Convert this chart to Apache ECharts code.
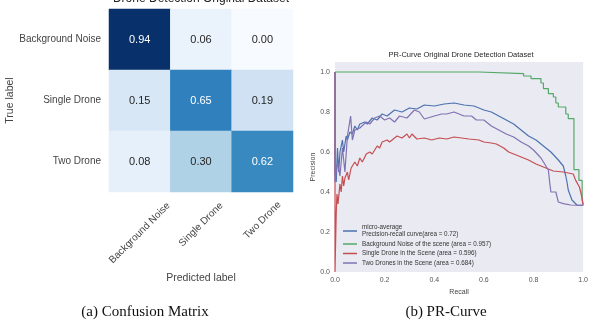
<!DOCTYPE html>
<html>
<head>
<meta charset="utf-8">
<script src="https://cdn.jsdelivr.net/npm/echarts@6/dist/echarts.min.js"></script>
<style>
  html, body { margin: 0; padding: 0; background: #fff; }
  #main { width: 591px; height: 330px; }
</style>
</head>
<body>
<div id="main"></div>
<script>
// confusion matrix
var classes = ['Background Noise', 'Single Drone', 'Two Drone'];
var matrix = [
    [0.94, 0.06, 0.00],
    [0.15, 0.65, 0.19],
    [0.08, 0.30, 0.62]
];

// PR curves, [recall, precision]
var microAvg = [[0,1],[0,0.5],[0.005,0.45],[0.01,0.62],[0.015,0.5],[0.02,0.6],[0.03,0.66],[0.035,0.6],[0.045,0.68],[0.05,0.66],[0.06,0.7],[0.07,0.69],[0.08,0.73],[0.09,0.71],[0.1,0.74],[0.12,0.75],[0.13,0.74],[0.15,0.77],[0.17,0.76],[0.19,0.79],[0.21,0.78],[0.24,0.81],[0.27,0.8],[0.3,0.82],[0.33,0.815],[0.36,0.835],[0.4,0.83],[0.44,0.84],[0.48,0.845],[0.52,0.835],[0.56,0.83],[0.6,0.81],[0.63,0.8],[0.66,0.78],[0.69,0.76],[0.72,0.74],[0.75,0.71],[0.78,0.68],[0.81,0.66],[0.84,0.63],[0.87,0.6],[0.9,0.56],[0.92,0.53],[0.93,0.48],[0.935,0.45],[0.94,0.41],[0.955,0.36],[0.975,0.335],[1,0.333]];
var bgNoise = [[0,1],[0.58,1],[0.58,0.992],[0.76,0.992],[0.76,0.98],[0.79,0.98],[0.79,0.967],[0.83,0.967],[0.83,0.945],[0.84,0.945],[0.84,0.917],[0.86,0.917],[0.86,0.892],[0.88,0.892],[0.88,0.875],[0.89,0.875],[0.89,0.845],[0.9,0.845],[0.9,0.825],[0.93,0.825],[0.93,0.79],[0.94,0.79],[0.94,0.767],[0.963,0.767],[0.963,0.512],[0.983,0.512],[0.983,0.458],[0.996,0.458],[0.996,0.36],[1,0.34]];
var singleDrone = [[0,1],[0,0],[0.005,0.3],[0.008,0.39],[0.012,0.34],[0.02,0.44],[0.025,0.4],[0.03,0.48],[0.035,0.43],[0.04,0.47],[0.05,0.5],[0.055,0.46],[0.065,0.52],[0.08,0.55],[0.09,0.53],[0.1,0.57],[0.11,0.55],[0.126,0.59],[0.14,0.6],[0.15,0.59],[0.17,0.63],[0.18,0.62],[0.19,0.65],[0.21,0.66],[0.22,0.65],[0.25,0.68],[0.27,0.67],[0.29,0.69],[0.3,0.67],[0.31,0.69],[0.33,0.665],[0.36,0.67],[0.39,0.66],[0.42,0.67],[0.45,0.665],[0.48,0.675],[0.51,0.67],[0.54,0.665],[0.58,0.66],[0.6,0.65],[0.63,0.645],[0.65,0.64],[0.68,0.62],[0.7,0.6],[0.72,0.59],[0.75,0.575],[0.78,0.56],[0.81,0.54],[0.85,0.52],[0.88,0.505],[0.92,0.5],[0.96,0.49],[0.97,0.458],[0.985,0.425],[0.995,0.375],[1,0.333]];
var twoDrones = [[0,1],[0,0.45],[0.01,0.55],[0.02,0.48],[0.03,0.62],[0.04,0.5],[0.05,0.68],[0.063,0.78],[0.07,0.66],[0.08,0.71],[0.1,0.72],[0.126,0.75],[0.14,0.74],[0.16,0.77],[0.18,0.78],[0.2,0.76],[0.22,0.77],[0.24,0.75],[0.26,0.78],[0.29,0.77],[0.32,0.81],[0.34,0.8],[0.36,0.765],[0.4,0.78],[0.43,0.79],[0.45,0.79],[0.48,0.8],[0.5,0.79],[0.52,0.78],[0.55,0.78],[0.57,0.76],[0.6,0.76],[0.63,0.73],[0.66,0.71],[0.69,0.69],[0.72,0.675],[0.75,0.65],[0.78,0.63],[0.8,0.61],[0.83,0.57],[0.85,0.53],[0.86,0.51],[0.865,0.45],[0.87,0.4],[0.89,0.4],[0.895,0.375],[0.9,0.35],[0.92,0.342],[0.95,0.335],[1,0.333]];

var seriesNames = [
    'micro-average\nPrecision-recall curve(area = 0.72)',
    'Background Noise of the scene (area = 0.957)',
    'Single Drone in the Scene (area = 0.596)',
    'Two Drones in the Scene (area = 0.684)'
];
var seriesColors = ['#4c72b0', '#55a868', '#c44e52', '#8172b2'];
var prTicks = [0, 0.2, 0.4, 0.6, 0.8, 1.0];

var FONT = '"Liberation Sans", Arial, sans-serif';
var SERIF = '"Liberation Serif", "Times New Roman", serif';
var myChart = echarts.init(document.getElementById('main'));

var maxVal = 0.94;
var heatData = [];
matrix.forEach(function (row, i) {
    row.forEach(function (v, j) {
        heatData.push({
            value: [j, i, v],
            label: { color: v > maxVal / 2 ? '#ffffff' : '#262626' }
        });
    });
});

function tickFmt(v) {
    for (var k = 0; k < prTicks.length; k++) {
        if (Math.abs(prTicks[k] - v) < 1e-6) return v.toFixed(1);
    }
    return '';
}

var lineSeries = [microAvg, bgNoise, singleDrone, twoDrones].map(function (d, i) {
    return {
        name: seriesNames[i],
        type: 'line',
        xAxisIndex: 1,
        yAxisIndex: 1,
        data: d,
        symbol: 'none',
        color: seriesColors[i],
        lineStyle: { width: 1.2, color: seriesColors[i] },
        z: 3 + i
    };
});

var option = {
    animation: false,
    textStyle: { fontFamily: FONT },
    title: [
        {
            text: 'Drone Detection Original Dataset',
            left: 201, top: -7, textAlign: 'center', padding: 0,
            textStyle: { fontSize: 12, fontWeight: 'normal', color: '#262626', fontFamily: FONT }
        },
        {
            text: 'PR-Curve Original Drone Detection Dataset',
            left: 461, top: 51, textAlign: 'center', padding: 0,
            textStyle: { fontSize: 7.5, fontWeight: 'normal', color: '#262626', fontFamily: FONT }
        },
        {
            text: '(a) Confusion Matrix',
            left: 145, top: 305, textAlign: 'center', padding: 0,
            textStyle: { fontSize: 15, fontWeight: 'normal', color: '#111', fontFamily: SERIF }
        },
        {
            text: '(b) PR-Curve',
            left: 446, top: 305, textAlign: 'center', padding: 0,
            textStyle: { fontSize: 15, fontWeight: 'normal', color: '#111', fontFamily: SERIF }
        }
    ],
    grid: [
        { left: 109, top: 9, width: 184, height: 183 },
        { left: 335, top: 62, width: 253, height: 210, show: true, backgroundColor: '#eaeaf2', borderWidth: 0 }
    ],
    xAxis: [
        {
            type: 'category', gridIndex: 0, data: classes,
            axisLine: { show: false }, axisTick: { show: false }, splitLine: { show: false },
            axisLabel: {
                rotate: 45, align: 'center', verticalAlign: 'middle', margin: 41,
                fontSize: 10, color: '#444', fontFamily: FONT,
                formatter: function (v, i) { return '{c' + i + '|' + v + '}'; },
                rich: {
                    c0: { fontSize: 10, color: '#444' },
                    c1: { fontSize: 10, color: '#444', padding: [0, 0, 12, 12] },
                    c2: { fontSize: 10, color: '#444', padding: [0, 0, 18, 18] }
                }
            },
            name: 'Predicted label', nameLocation: 'middle', nameGap: 67,
            nameTextStyle: { fontSize: 10.5, color: '#444', fontFamily: FONT }
        },
        {
            type: 'value', gridIndex: 1, min: 0, max: 1, interval: 0.2,
            axisLine: { show: false }, axisTick: { show: false }, splitLine: { show: false },
            axisLabel: { fontSize: 7, color: '#555', margin: 5, formatter: tickFmt },
            name: 'Recall', nameLocation: 'middle', nameGap: 12,
            nameTextStyle: { fontSize: 7, color: '#444', fontFamily: FONT }
        }
    ],
    yAxis: [
        {
            type: 'category', gridIndex: 0, data: classes, inverse: true,
            axisLine: { show: false }, axisTick: { show: false }, splitLine: { show: false },
            axisLabel: { fontSize: 10, color: '#444', margin: 8 },
            name: 'True label', nameLocation: 'middle', nameGap: 92, nameRotate: 90,
            nameTextStyle: { fontSize: 10.5, color: '#444', fontFamily: FONT }
        },
        {
            type: 'value', gridIndex: 1, min: 0, max: 1.05, interval: 0.2,
            axisLine: { show: false }, axisTick: { show: false }, splitLine: { show: false },
            axisLabel: { fontSize: 7, color: '#555', margin: 5, formatter: tickFmt, showMaxLabel: false },
            name: 'Precision', nameLocation: 'middle', nameGap: 18, nameRotate: 90,
            nameTextStyle: { fontSize: 7, color: '#444', fontFamily: FONT }
        }
    ],
    visualMap: {
        show: false, seriesIndex: 0, min: 0, max: maxVal,
        inRange: { color: ['#f7fbff', '#deebf7', '#c6dbef', '#9ecae1', '#6baed6', '#4292c6', '#2171b5', '#08519c', '#08306b'] }
    },
    legend: {
        data: seriesNames,
        orient: 'vertical', left: 338, top: 219,
        itemWidth: 14, itemHeight: 1.5, itemGap: 2.5, icon: 'rect',
        textStyle: { fontSize: 6.3, color: '#333', lineHeight: 7, fontFamily: FONT }
    },
    series: [
        {
            type: 'heatmap', xAxisIndex: 0, yAxisIndex: 0, data: heatData,
            label: {
                show: true, fontSize: 11, fontFamily: FONT,
                formatter: function (p) { return p.value[2].toFixed(2); }
            },
            emphasis: { disabled: true }
        }
    ].concat(lineSeries)
};

myChart.setOption(option);
</script>
</body>
</html>
